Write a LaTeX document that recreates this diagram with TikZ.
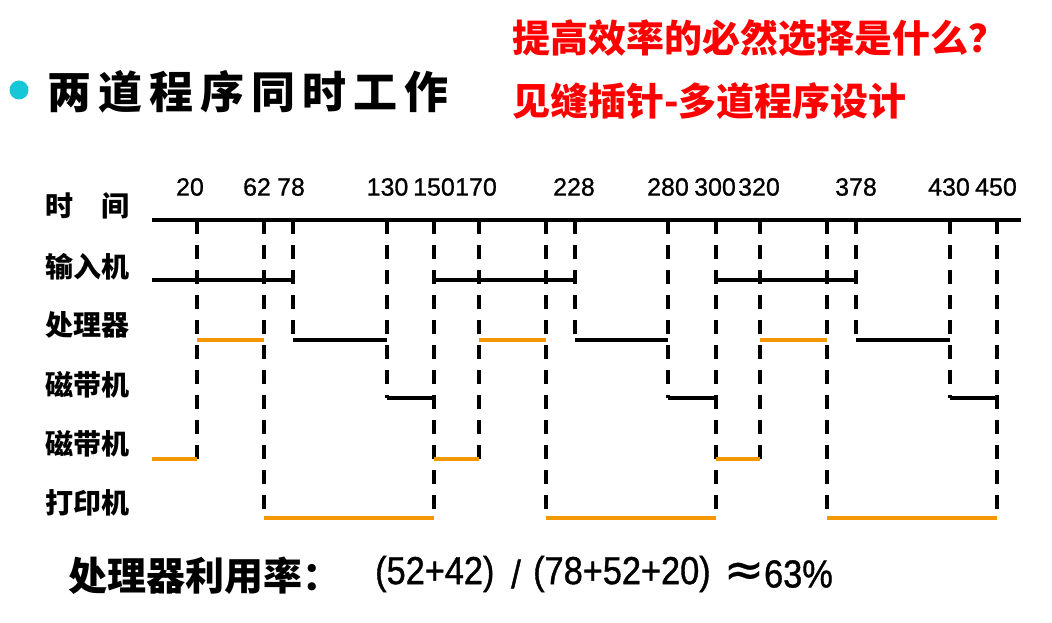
\documentclass[tikz,border=0pt]{standalone}
\usepackage{fontspec}
\setmainfont{Liberation Sans}
\newfontfamily\cjk{Noto Sans CJK SC}
\newfontfamily\titlef[LetterSpace=16]{Noto Sans CJK SC}
\newfontfamily\numf[FakeBold=0.8]{Liberation Sans}
\newfontfamily\formf[FakeStretch=0.88,FakeBold=1]{Liberation Sans}
\newfontfamily\symf[FakeBold=0.5]{DejaVu Sans}
\definecolor{orangec}{RGB}{243,152,0}
\definecolor{bulletc}{RGB}{22,200,215}
\definecolor{redc}{RGB}{255,0,0}
\tikzset{
  axisline/.style={line width=4pt, black},
  guide/.style={line width=4pt, black, dash pattern=on 14pt off 11pt},
  blk/.style={line width=3.6pt, black},
  org/.style={line width=3.6pt, orangec},
  rowlab/.style={anchor=west, inner sep=0pt, font=\cjk\bfseries\fontsize{28}{28}\selectfont},
  tlab/.style={inner sep=0pt, font=\numf\fontsize{25}{25}\selectfont},
  redtxt/.style={anchor=west, inner sep=0pt, text=redc, font=\cjk\bfseries\fontsize{38}{38}\selectfont},
  formtxt/.style={inner sep=0pt, font=\formf\fontsize{39}{39}\selectfont},
}
\begin{document}
\begin{tikzpicture}[x=1pt,y=-1pt]
\fill[white] (0,0) rectangle (1052,623);
\useasboundingbox (0,0) rectangle (1052,623);

% header
\fill[bulletc] (19,90) circle (9.5pt);
\node[anchor=west, inner sep=0pt, font=\titlef\bfseries\fontsize{44}{44}\selectfont] (title) at (47,92) {两道程序同时工作};
\node[redtxt] (q1) at (512,38) {提高效率的必然选择是什么？};
\node[redtxt] (q2) at (512,101) {见缝插针-多道程序设计};

% time positions
\foreach \n/\x in {0/152,20/197,62/263.5,78/293,130/387,150/434,170/479,200/545.5,228/575,280/668,300/715.5,320/760,350/827,378/856,430/950,450/997,end/1021}
  \coordinate (t\n) at (\x,0);
% row positions
\coordinate (rax) at (0,220);
\coordinate (rin) at (0,280);
\coordinate (rcpu) at (0,340);
\coordinate (rtpa) at (0,398);
\coordinate (rtpb) at (0,459);
\coordinate (rpr) at (0,518);

% row labels
\node[rowlab] (lt) at (45,206) {时\hspace{28pt}间};
\node[rowlab] (lin) at (45,267) {输入机};
\node[rowlab] (lcpu) at (45,325) {处理器};
\node[rowlab] (ltpa) at (45,385) {磁带机};
\node[rowlab] (ltpb) at (45,444) {磁带机};
\node[rowlab] (lpr) at (45,503) {打印机};

% time labels
\foreach \v/\x in {20/190,62/257,78/291,130/387.5,150/434,170/476,228/574,280/668,300/715,320/759,378/856,430/949,450/996}
  \node[tlab] (n\v) at (\x,187) {\v};

% dashed guides
\foreach \n/\r in {20/tpb,62/pr,78/cpu,130/tpa,150/pr,170/tpb,200/pr,228/cpu,280/tpa,300/pr,320/tpb,350/pr,378/cpu,430/tpa,450/pr}
  \draw[guide] (t\n |- rax) -- (t\n |- r\r);

% time axis
\draw[axisline] (t0 |- rax) -- (tend |- rax);

% input
\draw[blk] (t0 |- rin) -- (t78 |- rin);
\draw[blk] (t150 |- rin) -- (t228 |- rin);
\draw[blk] (t300 |- rin) -- (t378 |- rin);
% cpu
\draw[org] (t20 |- rcpu) -- (t62 |- rcpu);
\draw[blk] (t78 |- rcpu) -- (t130 |- rcpu);
\draw[org] (t170 |- rcpu) -- (t200 |- rcpu);
\draw[blk] (t228 |- rcpu) -- (t280 |- rcpu);
\draw[org] (t320 |- rcpu) -- (t350 |- rcpu);
\draw[blk] (t378 |- rcpu) -- (t430 |- rcpu);
% tape 1
\draw[blk] (t130 |- rtpa) -- (t150 |- rtpa);
\draw[blk] (t280 |- rtpa) -- (t300 |- rtpa);
\draw[blk] (t430 |- rtpa) -- (t450 |- rtpa);
% tape 2
\draw[org] (t0 |- rtpb) -- (t20 |- rtpb);
\draw[org] (t150 |- rtpb) -- (t170 |- rtpb);
\draw[org] (t300 |- rtpb) -- (t320 |- rtpb);
% printer
\draw[org] (t62 |- rpr) -- (t150 |- rpr);
\draw[org] (t200 |- rpr) -- (t300 |- rpr);
\draw[org] (t350 |- rpr) -- (t450 |- rpr);

% bottom
\node[anchor=west, inner sep=0pt, font=\cjk\bfseries\fontsize{39}{39}\selectfont] (util) at (68,576) {处理器利用率：};
\node[formtxt, anchor=west] (fa) at (375,574) {(52+42)};
\node[formtxt] (fb) at (516,574) {/};
\node[formtxt, anchor=west] (fc) at (533,574) {(78+52+20)};
\node[inner sep=0pt, font=\symf\fontsize{48}{48}\selectfont] (fd) at (744,574) {≈};
\node[formtxt, anchor=east] (fe) at (833,574) {63\%};
\end{tikzpicture}
\end{document}
